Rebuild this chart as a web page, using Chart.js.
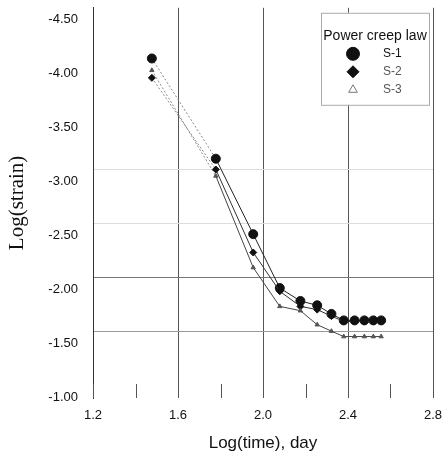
<!DOCTYPE html>
<html>
<head>
<meta charset="utf-8">
<script src="https://cdn.jsdelivr.net/npm/chart.js@4"></script>
<style>
html,body{margin:0;padding:0;background:#fff;}
#wrap{width:447px;height:458px;}
</style>
</head>
<body>
<div id="wrap"><canvas id="c" width="447" height="458"></canvas></div>
<script>
// ---- data ----
const logTime  = [1.477, 1.778, 1.954, 2.079, 2.176, 2.255, 2.322, 2.380, 2.431, 2.477, 2.519, 2.556];
const strainS1 = [-4.03, -3.10, -2.40, -1.90, -1.78, -1.74, -1.66, -1.60, -1.60, -1.60, -1.60, -1.60];
const strainS2 = [-3.85, -3.00, -2.23, -1.87, -1.73, -1.70, -1.64, -1.59, -1.59, -1.59, -1.59, -1.59];
const strainS3 = [-3.92, -2.94, -2.09, -1.73, -1.69, -1.56, -1.50, -1.45, -1.45, -1.45, -1.45, -1.45];
const seriesNames = ['S-1', 'S-2', 'S-3'];
const legendTitle = 'Power creep law';
const yTickValues = [-4.5, -4.0, -3.5, -3.0, -2.5, -2.0, -1.5, -1.0];
const xTitle = 'Log(time), day';
const yTitle = 'Log(strain)';

function pts(ys) { return logTime.map((x, i) => ({ x: x, y: ys[i] })); }

const segStyle = {
  borderDash: c => c.p0DataIndex === 0 ? [2, 2] : undefined,
  borderColor: c => c.p0DataIndex === 0 ? '#8a8a8a' : undefined
};

const markers = [
  { pointStyle: 'circle',   radius: 4.5, legendRadius: 6.5, fill: '#111', stroke: '#111', line: '#222' },
  { pointStyle: 'rectRot',  radius: 3.5, legendRadius: 6,   fill: '#111', stroke: '#111', line: '#333' },
  { pointStyle: 'triangle', radius: 2.5, legendRadius: 5,   fill: '#555', stroke: '#555', line: '#444' }
];

const datasets = [strainS1, strainS2, strainS3].map((ys, i) => ({
  label: seriesNames[i],
  data: pts(ys),
  showLine: true,
  borderWidth: 1,
  borderColor: markers[i].line,
  pointStyle: markers[i].pointStyle,
  pointRadius: markers[i].radius,
  pointHoverRadius: markers[i].radius,
  pointBackgroundColor: markers[i].fill,
  pointBorderColor: markers[i].stroke,
  pointBorderWidth: 1,
  segment: segStyle,
  order: 3 - i
}));

const sans = "'Liberation Sans', Arial, sans-serif";

const extras = {
  id: 'extras',
  afterDraw(chart) {
    const ctx = chart.ctx;
    const ca = chart.chartArea;
    const xs = chart.scales.x;
    ctx.save();
    // inner minor ticks along the bottom
    ctx.strokeStyle = '#555';
    ctx.lineWidth = 1;
    xs.ticks.forEach(t => {
      const px = Math.round(xs.getPixelForValue(t.value)) + 0.5;
      ctx.beginPath();
      ctx.moveTo(px, ca.bottom - 14);
      ctx.lineTo(px, ca.bottom);
      ctx.stroke();
    });
    // legend box
    const left = ca.right - 112, top = ca.top + 5, w = 108, h = 92;
    ctx.fillStyle = '#fff';
    ctx.fillRect(left, top, w, h);
    ctx.strokeStyle = '#aaa';
    ctx.strokeRect(left + 0.5, top + 0.5, w, h);
    ctx.fillStyle = '#111';
    ctx.font = "14px " + sans;
    ctx.textAlign = 'center';
    ctx.textBaseline = 'middle';
    ctx.fillText(legendTitle, left + w / 2, top + 23);
    ctx.font = "12px " + sans;
    ctx.textAlign = 'left';
    seriesNames.forEach((name, i) => {
      const y = top + 41 + i * 18;
      const m = markers[i];
      ctx.fillStyle = i === 2 ? '#fff' : m.fill;
      ctx.strokeStyle = i === 2 ? '#777' : m.stroke;
      ctx.lineWidth = 1;
      Chart.helpers.drawPoint(ctx, { pointStyle: m.pointStyle, radius: m.legendRadius, rotation: 0, borderWidth: 1 }, left + 32, y);
      ctx.fillStyle = i === 0 ? '#111' : '#555';
      ctx.fillText(name, left + 62, y);
    });
    ctx.restore();
  }
};

new Chart(document.getElementById('c'), {
  type: 'scatter',
  data: { datasets: datasets },
  options: {
    responsive: false,
    animation: false,
    devicePixelRatio: 1,
    layout: { padding: { top: 7, right: 14, bottom: 0, left: 0 } },
    plugins: { legend: { display: false }, tooltip: { enabled: false } },
    scales: {
      x: {
        type: 'linear',
        position: 'bottom',
        min: 1.2,
        max: 2.8,
        afterFit: s => { s.height = 60; },
        border: { display: false },
        grid: {
          drawTicks: true,
          tickLength: 10,
          tickColor: 'rgba(0,0,0,0)',
          lineWidth: 1,
          color: c => {
            const k = Math.round(c.tick.value * 10);
            return (k % 4 === 0 && k > 12) ? '#555' : 'rgba(0,0,0,0)';
          }
        },
        ticks: {
          stepSize: 0.2,
          autoSkip: false,
          maxRotation: 0,
          padding: 0,
          color: '#111',
          font: { family: sans, size: 13 },
          callback: v => (Math.round(v * 10) % 4 === 0 ? Number(v).toFixed(1) : '')
        },
        title: {
          display: true,
          text: xTitle,
          color: '#111',
          font: { family: sans, size: 17 },
          padding: { top: 4, bottom: 4 }
        }
      },
      y: {
        type: 'linear',
        reverse: true,
        min: -4.5,
        max: -0.88,
        afterFit: s => { s.width = 93; },
        afterBuildTicks: s => { s.ticks = yTickValues.map(v => ({ value: v })); },
        border: { display: true, color: '#333', width: 1 },
        grid: {
          drawTicks: true,
          tickLength: 15,
          tickColor: 'rgba(0,0,0,0)',
          lineWidth: 1,
          color: c => {
            const v = c.tick.value;
            if (Math.abs(v + 2.0) < 1e-6) return '#777';
            if (Math.abs(v + 1.5) < 1e-6) return '#999';
            if (Math.abs(v + 3.0) < 1e-6 || Math.abs(v + 2.5) < 1e-6) return '#ddd';
            return 'rgba(0,0,0,0)';
          }
        },
        ticks: {
          padding: 0,
          labelOffset: 12,
          color: '#111',
          font: { family: sans, size: 13 },
          callback: v => Number(v).toFixed(2)
        },
        title: {
          display: true,
          text: yTitle,
          color: '#111',
          font: { family: "'Liberation Serif', 'Times New Roman', serif", size: 21 },
          padding: { top: 5, bottom: 0 }
        }
      }
    }
  },
  plugins: [extras]
});
</script>
</body>
</html>
